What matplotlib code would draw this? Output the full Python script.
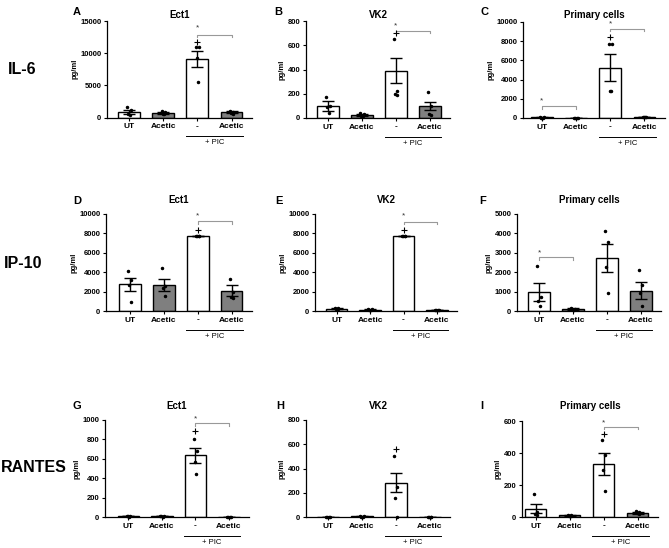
import numpy as np
import matplotlib
matplotlib.use("Agg")
import matplotlib.pyplot as plt

plt.rcParams['font.family'] = ['Liberation Sans', 'DejaVu Sans']

# group labels
groups = ["UT", "Acetic", "-", "Acetic"]
row_names = ["IL-6", "IP-10", "RANTES"]
cell_lines = ["Ect1", "VK2", "Primary cells"]
letters = ["A", "B", "C", "D", "E", "F", "G", "H", "I"]

# y-axis tops and tick steps per panel
ymax = [15000, 800, 10000, 10000, 10000, 5000, 1000, 800, 600]
ystep = [5000, 200, 2000, 2000, 2000, 1000, 200, 200, 200]

# bar means (pg/ml) per panel: UT, Acetic, PIC, PIC+Acetic
means = [
    [900, 650, 9080, 800],
    [100, 25, 390, 101],
    [60, 20, 5240, 100],
    [2750, 2700, 7750, 2100],
    [250, 150, 7750, 100],
    [960, 100, 2715, 1050],
    [10, 8, 635, 3],
    [0, 5, 283, 0],
    [52, 10, 333, 27],
]
sems = [
    [300, 150, 1280, 150],
    [42, 8, 105, 31],
    [30, 8, 1400, 30],
    [680, 600, 0, 550],
    [60, 30, 0, 20],
    [460, 30, 720, 430],
    [3, 2, 74, 1],
    [0, 3, 76, 0],
    [30, 3, 69, 6],
]
# individual points
points = [
    [[1700, 1100, 600, 400], [1000, 800, 600, 500], [10900, 10900, 9250, 5500], [1000, 850, 700, 600]],
    [[177, 100, 90, 39], [45, 30, 20, 15], [652, 225, 198, 190], [212, 99, 29, 26]],
    [[120, 60, 30, 20], [30, 20, 10, 10], [7700, 7700, 2850, 2800], [150, 120, 80, 60]],
    [[4100, 3200, 2700, 900], [4400, 2550, 2400, 1500], [7750, 7750, 7750, 7750], [3300, 2000, 1400, 1300]],
    [[350, 280, 200, 180], [200, 160, 130, 100], [7750, 7750, 7750, 7750], [140, 110, 80, 70]],
    [[2300, 700, 500, 280], [150, 110, 80, 60], [4120, 3540, 2270, 930], [2100, 1360, 930, 275]],
    [[15, 10, 8, 5], [12, 8, 6, 5], [800, 680, 570, 442], [5, 3, 2, 1]],
    [[0, 0, 0, 0], [12, 5, 3, 0], [502, 248, 157, 0], [0, 0, 0, 0]],
    [[146, 31, 17, 15], [15, 10, 8, 6], [483, 385, 292, 162], [35, 30, 22, 20]],
]
# '+' marker value in the PIC group
plus_vals = [11700, 699, 8400, 8400, 8400, None, 890, 557, 521]
# significance brackets: (left group, right group, line height, star height)
brackets = [
    [(2, 3, 12900, 13900)],
    [(2, 3, 718, 760)],
    [(0, 1, 1200, 1780), (2, 3, 9300, 9800)],
    [(2, 3, 9250, 9800)],
    [(2, 3, 9180, 9770)],
    [(0, 1, 2770, 3020)],
    [(2, 3, 966, 1010)],
    [],
    [(2, 3, 562, 590)],
]

W, H = 669, 548
fig = plt.figure(figsize=(W / 100, H / 100), dpi=100)

# axes pixel boxes: left, right, top tick, zero
boxes = [
    (107, 252, 21, 117.5), (306, 450, 21, 118), (523, 665, 22, 118),
    (106, 252, 214, 311), (315, 457, 214, 311), (517, 661, 214, 311),
    (105, 249, 420, 517), (306, 450, 420, 517), (522, 658, 421, 517),
]
xlefts = [-0.65, -0.65, -0.55, -0.7, -0.65, -0.65, -0.7, -0.65, -0.4]
colors = ["white", "#7f7f7f", "white", "#7f7f7f"]
offs = [-0.05, 0.05, -0.02, 0.03]

for i in range(9):
    l, r, t, b = boxes[i]
    ax = fig.add_axes([l / W, 1 - b / H, (r - l) / W, (b - t) / H])
    x = np.arange(4)
    ax.bar(x, means[i], width=0.64, color=colors, edgecolor="black", linewidth=1, zorder=2)
    ax.errorbar(x, means[i], yerr=sems[i], fmt="none", ecolor="black", elinewidth=1,
                capsize=4.5, capthick=1, zorder=3)
    for g in range(4):
        pts = points[i][g]
        ax.plot(g + np.array(offs[:len(pts)]), pts, ls="none", marker="o", ms=1.5,
                color="black", zorder=4, clip_on=False)
    if plus_vals[i] is not None:
        ax.plot([2], [plus_vals[i]], ls="none", marker="+", ms=4, mew=0.8,
                color="black", zorder=4, clip_on=False)
    for (g1, g2, yb, ys) in brackets[i]:
        tick = ymax[i] * 0.025
        ax.plot([g1, g1, g2, g2], [yb - tick, yb, yb, yb - tick], color="#999999",
                lw=0.8, clip_on=False)
        ax.text(g1, ys, "*", ha="center", va="center", fontsize=6, color="#333333")

    ax.set_xlim(xlefts[i], 3.6)
    ax.set_ylim(0, ymax[i])
    ax.set_yticks(np.arange(0, ymax[i] + 1, ystep[i]))
    ax.set_xticks(x)
    ax.set_xticklabels(groups, fontweight="bold", fontsize=6)
    for lab in ax.get_yticklabels():
        lab.set_fontweight("bold")
    ax.tick_params(axis="both", direction="out", length=2.5, width=0.8, pad=1.5)
    ax.tick_params(axis="y", labelsize=5.5)
    ax.spines["top"].set_visible(False)
    ax.spines["right"].set_visible(False)
    ax.spines["left"].set_linewidth(0.9)
    ax.spines["bottom"].set_linewidth(0.9)
    ax.set_ylabel("pg/ml", fontsize=5.5, fontweight="bold", labelpad=1.5)

    # + PIC line under the last two groups
    hpx = b - t
    tr = ax.get_xaxis_transform()
    ax.plot([2 - 0.33, 3 + 0.33], [-18.5 / hpx] * 2, color="black", lw=0.7,
            transform=tr, clip_on=False)
    ax.text(2.5, -25.5 / hpx, "+ PIC", ha="center", va="center", fontsize=5.5,
            transform=tr)

    # title
    row = i // 3
    title_y = [15, 200, 406][row]
    fig.text((l + r) / 2 / W, 1 - title_y / H, cell_lines[i % 3], ha="center",
             va="center", fontsize=7, fontweight="bold")

letter_pos = [(77, 12), (278, 12), (484, 12), (77, 201), (279, 201), (483, 201),
              (77, 406), (280, 406), (482, 406)]
for k, (px, py) in enumerate(letter_pos):
    fig.text(px / W, 1 - py / H, letters[k], ha="center", va="center",
             fontsize=8, fontweight="bold")

row_pos = [(22, 70), (23, 263), (34, 468)]
for k, (px, py) in enumerate(row_pos):
    fig.text(px / W, 1 - py / H, row_names[k], ha="center", va="center",
             fontsize=11.5, fontweight="bold")

fig.savefig("out.png", dpi=100)
